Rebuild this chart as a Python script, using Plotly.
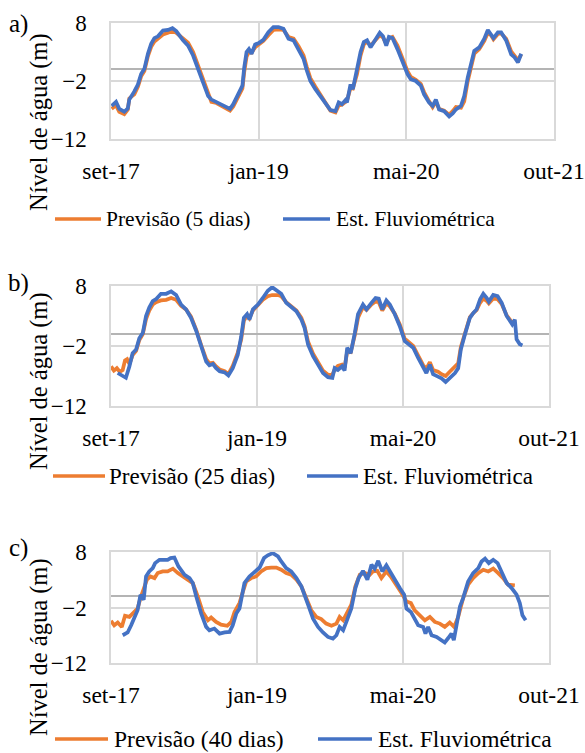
import pandas as pd
import plotly.graph_objects as go

START = pd.Timestamp("2017-09-01")
TICK_DAYS = [0, 500, 1000, 1500]
TICK_TEXT = ["set-17", "jan-19", "mai-20", "out-21"]
Y_TICKS = [-12, -2, 8]

# ---------- panel a (5 dias) ----------
a_days = [2, 17, 28, 45, 57, 62, 79, 91, 102, 113, 125, 136, 147, 159, 176, 193, 208, 221, 244, 261,
          278, 295, 312, 329, 340, 357, 374, 391, 403, 414, 431, 445, 451, 459, 467, 476, 488, 499, 516, 533,
          550, 567, 584, 601, 618, 635, 652, 663, 675, 692, 709, 726, 743, 760, 771, 782, 794, 799, 811, 819,
          833, 845, 856, 867, 879, 896, 910, 921, 932, 941, 953, 970, 987, 1004, 1015, 1032, 1049, 1060, 1077, 1089,
          1100, 1111, 1128, 1145, 1157, 1168, 1185, 1196, 1208, 1219, 1230, 1247, 1264, 1276, 1287, 1295, 1310, 1321, 1338, 1355,
          1366, 1378, 1389]
a_obs = [-6.3, -5.6, -6.8, -7.3, -6.7, -5.2, -3.8, -2.6, -0.8, 0.1, 2.7, 4.4, 5.4, 5.7, 6.7, 6.8, 7.1, 6.6, 5.0, 4.1,
         2.4, 0.1, -2.3, -4.6, -5.2, -5.6, -6.1, -6.5, -6.8, -6.0, -4.3, -2.8, 0.3, 3.0, 3.5, 2.7, 4.3, 4.5, 5.1, 6.4,
         7.3, 7.3, 7.0, 5.3, 5.0, 3.5, 1.8, -0.2, -2.0, -3.4, -4.6, -6.0, -7.0, -7.2, -5.7, -6.0, -5.3, -5.7, -2.6, -3.4,
         -0.2, 3.0, 4.7, 5.0, 3.8, 5.3, 6.3, 5.7, 4.1, 5.6, 5.4, 3.5, 1.2, -0.8, -1.7, -2.0, -2.8, -4.3, -5.7, -6.3,
         -5.2, -6.9, -7.2, -8.1, -7.6, -6.9, -6.3, -4.6, -1.4, 0.9, 3.2, 3.8, 5.3, 6.8, 6.1, 5.4, 6.4, 6.4, 5.0, 2.6,
         2.1, 1.2, 2.7]
a_fc = [-6.8, -6.2, -7.3, -7.7, -6.9, -5.0, -4.3, -3.0, -1.2, -0.3, 2.3, 3.9, 4.8, 5.3, 6.0, 6.3, 6.6, 6.3, 5.2, 4.6,
        3.0, 0.6, -1.9, -4.3, -5.6, -5.8, -6.3, -6.8, -7.1, -6.4, -4.8, -3.3, -0.5, 2.2, 3.0, 2.9, 3.8, 4.2, 4.9, 5.9,
        6.8, 6.9, 6.8, 5.6, 5.3, 4.0, 2.4, 0.4, -1.5, -3.0, -4.4, -5.9, -7.1, -7.4, -6.2, -6.1, -5.5, -5.4, -3.2, -3.3,
        -0.8, 2.4, 4.3, 4.8, 4.1, 5.1, 5.9, 5.5, 4.4, 5.3, 5.6, 4.1, 1.8, -0.3, -1.3, -1.8, -2.5, -3.9, -5.5, -6.5,
        -5.6, -6.8, -7.1, -7.8, -7.2, -6.5, -6.6, -5.5, -2.0, 0.4, 2.7, 3.5, 4.9, 6.3, 5.9, 5.2, 6.1, 6.2, 5.3, 3.1,
        2.4, 1.6, 2.6]

# ---------- panel b (25 dias) ----------
b_obs_days = [23, 40, 51, 63, 74, 86, 97, 109, 120, 131, 143, 154, 171, 189, 206, 223, 240, 257, 274, 292,
              309, 326, 337, 349, 360, 372, 389, 402, 417, 434, 446, 455, 466, 474, 486, 503, 520, 537, 552, 572,
              583, 600, 617, 635, 652, 663, 675, 692, 709, 726, 743, 758, 766, 777, 791, 800, 809, 821, 835, 846,
              863, 875, 892, 906, 917, 929, 943, 955, 972, 989, 1006, 1020, 1035, 1052, 1069, 1080, 1092, 1103, 1120, 1132,
              1146, 1160, 1178, 1189, 1198, 1212, 1229, 1241, 1252, 1264, 1275, 1287, 1294, 1309, 1324, 1338, 1355, 1366, 1374, 1383,
              1389, 1400, 1409]
b_obs = [-6.5, -6.9, -7.3, -5.4, -3.2, -2.6, -0.7, 0.2, 3.0, 4.4, 5.5, 5.8, 6.7, 6.7, 7.1, 6.5, 4.9, 4.1, 2.7, 0.5,
         -2.1, -4.6, -5.2, -5.0, -5.7, -6.2, -6.4, -6.9, -5.7, -3.5, -0.4, 2.7, 3.3, 2.4, 4.1, 4.9, 6.0, 7.2, 7.8, 7.2,
         6.7, 5.2, 4.6, 3.8, 2.4, 1.0, -1.8, -3.7, -5.1, -6.5, -7.2, -7.3, -5.7, -6.0, -5.4, -6.1, -2.3, -3.2, 0.2, 3.3,
         4.9, 4.1, 5.2, 6.0, 5.9, 4.1, 5.6, 4.9, 3.3, 1.3, -1.2, -1.8, -2.3, -4.0, -5.7, -6.5, -5.1, -6.7, -7.1, -7.4,
         -8.0, -7.3, -6.5, -5.7, -2.6, -0.1, 2.7, 3.5, 4.1, 5.8, 6.7, 6.0, 5.4, 6.5, 6.3, 5.2, 3.0, 2.2, 1.6, 2.4,
         -0.9, -1.7, -1.9]
b_fc_days = [0, 10, 20, 30, 40, 48, 55, 63, 74, 86, 97, 109, 120, 131, 143, 154, 171, 189, 206, 223,
             240, 257, 274, 292, 309, 326, 337, 349, 360, 372, 389, 402, 417, 434, 446, 455, 466, 474, 486, 503,
             520, 537, 552, 572, 583, 600, 617, 635, 652, 663, 675, 692, 709, 726, 743, 758, 766, 777, 791, 800,
             809, 821, 835, 846, 863, 875, 892, 906, 917, 929, 943, 955, 972, 989, 1006, 1020, 1035, 1052, 1069, 1080,
             1092, 1103, 1120, 1132, 1146, 1160, 1178, 1189, 1198, 1212, 1229, 1241, 1252, 1264, 1275, 1287, 1294, 1309, 1324, 1338,
             1355, 1366, 1374, 1383]
b_fc = [-5.4, -6.1, -5.7, -6.3, -6.0, -4.4, -4.2, -5.0, -3.5, -2.8, -1.0, 0.0, 2.5, 3.9, 4.9, 5.3, 5.6, 5.7, 6.0, 5.7,
        4.7, 4.1, 2.9, 0.7, -1.9, -4.2, -4.9, -4.8, -5.4, -5.9, -6.2, -6.7, -5.3, -3.1, -0.9, 2.2, 3.1, 2.6, 3.9, 4.8,
        5.7, 6.3, 6.5, 6.5, 6.3, 5.3, 4.7, 3.9, 2.7, 1.3, -1.3, -3.3, -4.7, -6.1, -6.8, -6.8, -5.9, -5.3, -5.1, -5.6,
        -2.9, -3.0, -0.2, 2.7, 4.5, 4.0, 4.9, 5.4, 5.3, 3.9, 5.1, 4.6, 3.4, 1.6, -0.8, -1.4, -2.0, -3.6, -5.2, -5.8,
        -4.7, -6.0, -6.3, -6.7, -7.0, -6.3, -5.4, -4.9, -2.2, 0.2, 2.8, 3.5, 4.0, 5.2, 5.9, 5.5, 5.1, 5.9, 5.8, 5.0,
        3.1, 2.4, 1.9, 2.0]

# ---------- panel c (40 dias) ----------
c_obs_days = [40, 57, 69, 80, 91, 101, 112, 120, 131, 143, 151, 166, 181, 194, 204, 217, 231, 252, 269, 280,
              292, 309, 326, 337, 354, 372, 389, 406, 417, 429, 440, 448, 457, 474, 492, 509, 524, 537, 554, 572,
              583, 600, 617, 635, 652, 663, 677, 692, 709, 726, 743, 760, 772, 783, 795, 806, 823, 837, 848, 863,
              878, 892, 903, 915, 929, 943, 958, 974, 989, 1004, 1012, 1027, 1040, 1052, 1069, 1077, 1086, 1098, 1115, 1130,
              1143, 1155, 1166, 1174, 1183, 1195, 1206, 1223, 1240, 1258, 1269, 1281, 1294, 1309, 1324, 1338, 1355, 1372, 1389, 1400,
              1409, 1420]
c_obs = [-7.0, -6.5, -5.2, -3.7, -2.5, 0.3, -0.6, 3.6, 4.5, 5.1, 6.0, 6.6, 6.6, 6.6, 6.9, 7.0, 5.4, 3.9, 3.3, 2.4,
         0.0, -3.1, -5.5, -6.1, -5.8, -6.7, -6.5, -6.4, -5.2, -3.1, -2.2, 0.3, 2.4, 3.6, 4.5, 5.2, 6.9, 7.4, 7.8, 7.2,
         6.3, 5.1, 4.5, 3.3, 1.8, 0.0, -1.8, -4.0, -5.5, -6.5, -7.3, -7.6, -7.0, -5.5, -6.1, -4.6, -2.2, 1.5, 3.3, 4.6,
         3.0, 5.7, 5.0, 6.4, 4.5, 5.6, 4.2, 2.7, 1.5, 0.3, -2.2, -2.8, -4.0, -5.2, -5.5, -6.7, -5.5, -7.0, -7.3, -7.9,
         -8.3, -7.5, -6.7, -7.9, -5.2, -1.8, -0.3, 2.7, 4.2, 5.1, 6.3, 6.8, 6.0, 6.6, 6.0, 4.5, 2.4, 1.5, 0.3, -1.2,
         -3.4, -4.3]
c_fc_days = [0, 11, 23, 37, 48, 63, 80, 91, 101, 112, 123, 135, 149, 160, 177, 194, 212, 229, 246, 263,
             280, 297, 314, 332, 343, 360, 377, 398, 412, 423, 440, 452, 463, 480, 497, 514, 532, 549, 566, 583,
             600, 617, 635, 652, 669, 686, 703, 720, 737, 755, 772, 783, 795, 806, 823, 837, 852, 869, 886, 897,
             912, 926, 943, 958, 978, 995, 1012, 1027, 1040, 1057, 1075, 1092, 1109, 1126, 1143, 1160, 1175, 1189, 1206, 1223,
             1240, 1258, 1275, 1292, 1309, 1326, 1343, 1360, 1383]
c_fc = [-4.4, -5.2, -4.7, -5.5, -3.5, -3.7, -2.8, -2.2, -0.3, 1.5, 3.0, 3.6, 3.3, 4.2, 4.5, 4.5, 5.0, 4.2, 3.6, 3.0,
        2.4, 0.0, -2.8, -4.3, -3.8, -4.6, -5.1, -5.3, -4.6, -2.8, -1.2, 0.9, 2.7, 3.3, 3.6, 4.5, 5.1, 5.2, 5.2, 4.8,
        4.2, 3.9, 3.0, 1.8, -0.3, -2.5, -3.7, -4.1, -4.9, -5.3, -4.9, -3.7, -4.3, -3.1, -1.5, 1.8, 3.9, 4.2, 3.9, 4.5,
        4.6, 3.3, 4.5, 3.6, 1.8, 0.6, -0.9, -1.2, -2.5, -3.4, -4.3, -3.7, -4.6, -4.9, -5.5, -4.7, -5.5, -3.7, -0.3, 2.1,
        3.3, 4.2, 4.8, 4.5, 5.0, 4.2, 3.3, 2.1, 2.0]

FC_NAMES = ["Previsão (5 dias)", "Previsão (25 dias)", "Previsão (40 dias)"]
OBS_NAME = "Est. Fluviométrica"
PANEL_LABELS = ["a)", "b)", "c)"]
Y_TITLE = "Nível de água (m)"

ORANGE = "#ED7D31"
BLUE = "#4472C4"
FONT = "Liberation Serif, 'Times New Roman', Times, serif"


def to_dates(days):
    return [START + pd.Timedelta(days=d) for d in days]


panels = [
    (a_days, a_fc, a_days, a_obs),
    (b_fc_days, b_fc, b_obs_days, b_obs),
    (c_fc_days, c_fc, c_obs_days, c_obs),
]

# layout geometry (pixels in a 585x753 page)
W, H = 585, 753
plot_boxes = [(111, 554, 23, 139), (111, 549, 286, 406), (111, 549, 552, 663)]
# legend: (orange line x0, x1, orange text x, blue line x0, x1, blue text x, y, font size)
legend_geo = [(55, 101, 105, 283, 330, 335, 219, 21.5),
              (53, 105, 108, 307, 358, 362, 476, 23),
              (55, 108, 113, 318, 372, 377, 739, 23.5)]
title_y = [122, 381, 647]
label_y = [24, 283, 548]

fig = go.Figure()

for i, (fd, fv, od, ov) in enumerate(panels):
    sfx = "" if i == 0 else str(i + 1)
    fig.add_trace(go.Scatter(x=to_dates(fd), y=fv, mode="lines", name=FC_NAMES[i],
                             line=dict(color=ORANGE, width=3.75), xaxis="x" + sfx, yaxis="y" + sfx,
                             showlegend=False))
    fig.add_trace(go.Scatter(x=to_dates(od), y=ov, mode="lines", name=OBS_NAME,
                             line=dict(color=BLUE, width=3.75), xaxis="x" + sfx, yaxis="y" + sfx,
                             showlegend=False))

layout = dict(width=W, height=H, margin=dict(l=0, r=0, t=0, b=0, autoexpand=False),
              paper_bgcolor="white", plot_bgcolor="white", showlegend=False,
              font=dict(family=FONT, size=22, color="black"))

annotations = []
shapes = []
for i, (x0, x1, y0, y1) in enumerate(plot_boxes):
    sfx = "" if i == 0 else str(i + 1)
    layout["xaxis" + sfx] = dict(
        type="date", domain=[x0 / W, x1 / W], anchor="y" + sfx,
        range=[START, START + pd.Timedelta(days=1500)],
        tickvals=to_dates(TICK_DAYS), ticktext=TICK_TEXT,
        showgrid=True, gridcolor="#d9d9d9", gridwidth=1.5,
        showline=True, mirror=True, linecolor="#d9d9d9", linewidth=1.5,
        ticks="outside", ticklen=10, tickcolor="rgba(0,0,0,0)",
        tickfont=dict(family=FONT, size=23.5), zeroline=False, automargin=False)
    layout["yaxis" + sfx] = dict(
        domain=[1 - y1 / H, 1 - y0 / H], anchor="x" + sfx, range=[-12, 8],
        tickvals=Y_TICKS, showgrid=True, gridcolor="#d9d9d9", gridwidth=1.5,
        showline=True, mirror=True, linecolor="#d9d9d9", linewidth=1.5,
        zeroline=True, zerolinecolor="#b4b4b4", zerolinewidth=2,
        ticks="outside", ticklen=18, tickcolor="rgba(0,0,0,0)",
        tickfont=dict(family=FONT, size=23), automargin=False)

    ox0, ox1, otx, bx0, bx1, btx, ly, fs = legend_geo[i]
    yy = 1 - ly / H
    shapes.append(dict(type="line", xref="paper", yref="paper", x0=ox0 / W, x1=ox1 / W, y0=yy, y1=yy,
                       line=dict(color=ORANGE, width=3.5)))
    shapes.append(dict(type="line", xref="paper", yref="paper", x0=bx0 / W, x1=bx1 / W, y0=yy, y1=yy,
                       line=dict(color=BLUE, width=3.5)))
    annotations.append(dict(text=FC_NAMES[i], x=otx / W, y=yy, xref="paper", yref="paper",
                            showarrow=False, xanchor="left", yanchor="middle", borderpad=0,
                            font=dict(family=FONT, size=fs)))
    annotations.append(dict(text=OBS_NAME, x=btx / W, y=yy, xref="paper", yref="paper",
                            showarrow=False, xanchor="left", yanchor="middle", borderpad=0,
                            font=dict(family=FONT, size=fs)))

    annotations.append(dict(text=Y_TITLE, textangle=-90, x=39 / W, y=1 - title_y[i] / H,
                            xref="paper", yref="paper", showarrow=False,
                            font=dict(family=FONT, size=24.5), xanchor="center", yanchor="middle"))
    annotations.append(dict(text=PANEL_LABELS[i], x=18 / W, y=1 - label_y[i] / H,
                            xref="paper", yref="paper", showarrow=False,
                            font=dict(family=FONT, size=25), xanchor="center", yanchor="middle"))

layout["annotations"] = annotations
layout["shapes"] = shapes
fig.update_layout(**layout)
fig.write_html("out.html")
